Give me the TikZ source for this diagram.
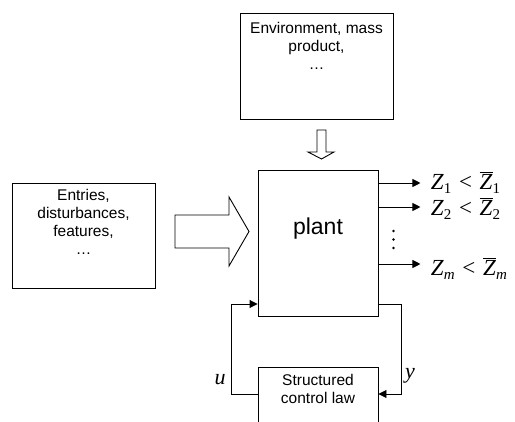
\documentclass[tikz,border=0pt]{standalone}
\usepackage{fontspec}
\setmainfont{Liberation Sans}
\newfontfamily\tms{Liberation Serif}
\usetikzlibrary{arrows.meta,calc}

% lowered subscript in the serif face
\newcommand\zsub[1]{\raisebox{-0.45ex}{\fontsize{15}{15}\selectfont #1}}
% bounded output  Z_i < \bar Z_i
\newcommand\zbound[1]{{\tms\fontsize{23}{23}\selectfont
  \textit{Z}\zsub{#1}\,\,<\,\,$\overline{\hbox{\textit{Z}}}$\zsub{#1}}}

\tikzset{
  box/.style={draw, line width=0.9pt, rectangle, inner sep=0pt},
  txt/.style={font=\fontsize{15.5}{18}\selectfont, align=center, inner sep=0pt},
  wire/.style={line width=0.9pt},
  sig/.style={wire, -{Triangle[length=8pt, width=8pt]}},
  hollow/.style={draw, line width=0.9pt, fill=white, line join=miter},
  mathlab/.style={font=\tms\itshape\fontsize{22}{22}\selectfont, inner sep=0pt}
}

\begin{document}
\begin{tikzpicture}[x=1pt, y=-1pt]
  \useasboundingbox (0,0) rectangle (515,422);
  \clip (0,0) rectangle (515,422);

  % blocks
  \node[box, minimum width=153pt, minimum height=106pt] (env) at (316.5,66) {};
  \node[txt, anchor=north] (envtxt) at (316.5,22) {Environment, mass\\product,\\\dots};

  \node[box, minimum width=143pt, minimum height=105pt] (inp) at (83.5,235.5) {};
  \node[txt] (inptxt) at (83.5,222) {Entries,\\disturbances,\\features,\\\dots};

  \node[box, minimum width=120pt, minimum height=146pt] (plant) at (318,243) {};
  \node[inner sep=0pt, font=\fontsize{23}{23}\selectfont] (planttxt) at (318,229) {plant};

  \node[box, minimum width=120pt, minimum height=70pt, anchor=north] (ctrl) at (318,367) {};
  \node[txt, anchor=north] (ctrltxt) at (318,374) {Structured\\control law};

  % hollow arrow from the environment block
  \coordinate (dtop) at (321.5,130);
  \draw[hollow] ($(dtop)+(-4.5,0)$) -- ++(0,22) -- ++(-9,0) -- (321.5,159)
     -- ($(dtop)+(12.5,22)$) -- ++(-8,0) -- ($(dtop)+(4.5,0)$) -- cycle;

  % hollow arrow from the input block
  \draw[hollow] (175,215) -- (229,215) -- (229,197) -- (249,231.5)
     -- (229,266) -- (229,248) -- (175,248) -- cycle;

  % outputs
  \coordinate (o1) at (plant.east |- 0,183);
  \coordinate (o2) at (plant.east |- 0,207);
  \coordinate (o3) at (plant.east |- 0,264);
  \draw[sig] (o1) -- ++(42,0) node[right=10pt, inner sep=0pt] (z1) {\zbound{1}};
  \draw[sig] (o2) -- ++(42,0) node[right=10pt, inner sep=0pt, yshift=-2pt] (z2) {\zbound{2}};
  \draw[sig] (o3) -- ++(42,0) node[right=10pt, inner sep=0pt, yshift=-5pt] (zm) {\zbound{\textit{m}}};
  \foreach \yy in {231,239.5,248} \fill (393.5,\yy) circle (1.3pt);

  % feedback loop
  \coordinate (uin) at (plant.west |- 0,304);
  \coordinate (yout) at (plant.east |- 0,304);
  \draw[sig] (ctrl.west |- 0,394) -- (231,394) -- (231,304) -- (uin);
  \draw[sig] (yout) -- (401,304) -- (401,394) -- (ctrl.east |- 0,394);
  \node[mathlab] (u) at (220,380) {u};
  \node[mathlab] (y) at (410,376) {y};
\end{tikzpicture}
\end{document}
